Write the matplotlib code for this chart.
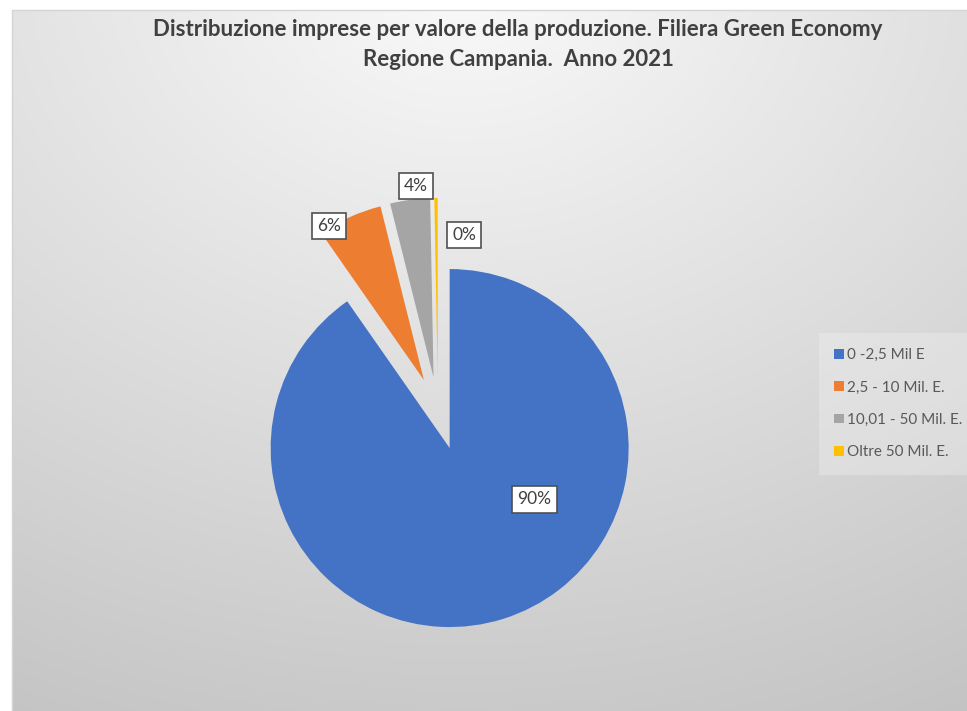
import matplotlib.pyplot as plt
import matplotlib.patches as mpatches
import numpy as np

plt.rcParams['font.family'] = ['Lato', 'DejaVu Sans']

classi = ['0 -2,5 Mil E', '2,5 - 10 Mil. E.', '10,01 - 50 Mil. E.', 'Oltre 50 Mil. E.']
quote = [90.3, 5.8, 3.6, 0.3]
colori = ['#4472C4', '#ED7D31', '#A5A5A5', '#FFC000']
esplodi = [0.217, 0.19, 0.19, 0.19]
# posizione delle etichette (coordinate del grafico, raggio = 1)
pos_etichette = [(0.538, -0.494), (-0.609, 1.034), (-0.123, 1.257), (0.145, 0.983)]

W, H = 967, 711
fig = plt.figure(figsize=(W / 100, H / 100), dpi=100)
fig.patch.set_facecolor('white')

# sfondo sfumato dell'area grafico
bg = fig.add_axes([12 / W, 0, 1 - 12 / W, 1 - 10 / H])
ny, nx = 300, 400
yy, xx = np.mgrid[0:ny, 0:nx]
cx, cy = nx * 0.47, -ny * 0.05
d = np.sqrt(((xx - cx) / nx) ** 2 + ((yy - cy) / ny * 0.95) ** 2)
v = np.clip(0.98 - 0.19 * d, 0.76, 1)
bg.imshow(np.dstack([v, v, v]), aspect='auto', extent=[0, 1, 0, 1], origin='upper')
bg.set_xlim(0, 1)
bg.set_ylim(0, 1)
bg.axis('off')
fig.add_artist(mpatches.Rectangle((12 / W, -0.01), 1, 1 - 10 / H + 0.01,
                                  transform=fig.transFigure, fill=False,
                                  edgecolor='#d4d4d4', linewidth=1))

# torta
R = 179
cxp, cyp = 438, 411
half = 340
ax = fig.add_axes([(cxp - half) / W, (H - cyp - half) / H, 2 * half / W, 2 * half / H])
wedges, _ = ax.pie(quote, colors=colori, explode=esplodi, startangle=90,
                   counterclock=False, radius=1,
                   wedgeprops=dict(linewidth=0))
ax.set_xlim(-half / R, half / R)
ax.set_ylim(-half / R, half / R)
ax.set_aspect('equal')
ax.axis('off')

for q, (x, y) in zip(quote, pos_etichette):
    ax.text(x, y, f'{q:.0f}%', ha='center', va='center', fontsize=12.5,
            color='#404040',
            bbox=dict(boxstyle='square,pad=0.3', facecolor='white',
                      edgecolor='#505050', linewidth=1.2))

fig.text(518 / W, 1 - 29 / H, 'Distribuzione imprese per valore della produzione. Filiera Green Economy',
         ha='center', va='center', fontsize=16, fontweight='bold', color='#404040')
fig.text(518 / W, 1 - 59 / H, 'Regione Campania.  Anno 2021',
         ha='center', va='center', fontsize=16, fontweight='bold', color='#404040')

leg = fig.legend(wedges, classi, loc='upper left', bbox_to_anchor=(816 / W, 1 - 330 / H),
                 frameon=True, fontsize=11, handlelength=0.6, handleheight=0.6,
                 handletextpad=0.25, labelspacing=1.2, borderpad=0.7,
                 labelcolor='#595959')
leg.get_frame().set_facecolor('#f2f2f2')
leg.get_frame().set_edgecolor('none')
leg.get_frame().set_alpha(0.35)
leg.get_frame().set_boxstyle('square')

fig.savefig('out.png', dpi=100)
